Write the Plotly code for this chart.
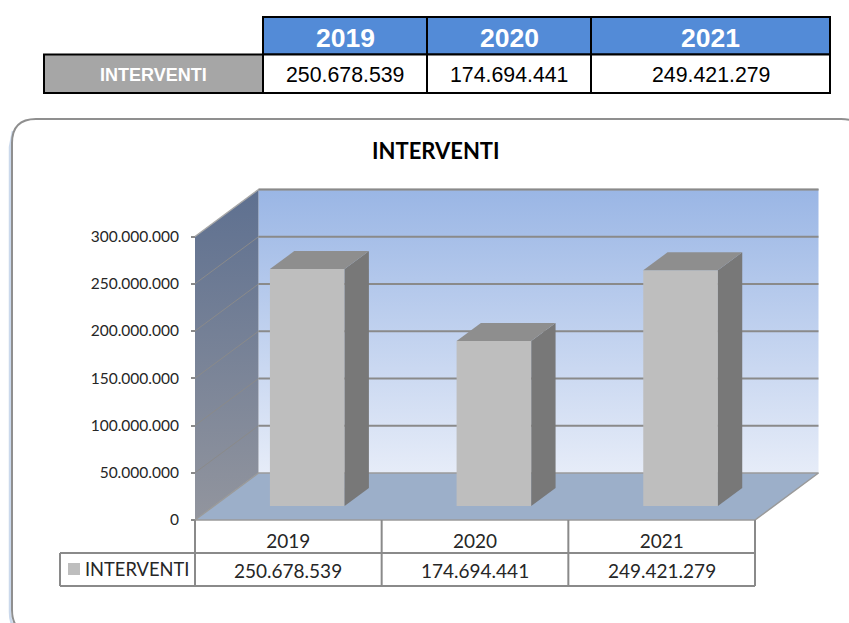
import plotly.graph_objects as go

# ---- data ----
categories = ["2019", "2020", "2021"]
series_name = "INTERVENTI"
values = [250678539, 174694441, 249421279]
value_labels = ["250.678.539", "174.694.441", "249.421.279"]
y_ticks = [0, 50000000, 100000000, 150000000, 200000000, 250000000, 300000000]

# ---- geometry of the picture ----
W, H = 849, 623
X0, CAT_W = 195.0, 186.67          # front plane left, px per category
Y0, PX_PER_V = 520.0, 283.5 / 3e8  # front-plane zero, px per unit
DX = 63.5 / CAT_W                  # floor depth in category units
DY = 47.0 / PX_PER_V               # floor depth in value units
BAR_W, BAR_FRONT, BAR_BACK = 0.40, 14 / 47, 32 / 47
NCAT = len(categories)
VMAX = y_ticks[-1]

xrange_ = [-X0 / CAT_W, (W - X0) / CAT_W]
yrange_ = [(Y0 - H) / PX_PER_V, Y0 / PX_PER_V]
px = lambda p: p / W
py = lambda p: 1 - p / H


def depth(x, v, d):
    return x + d * DX, v + d * DY


fig = go.Figure()


def poly(pts, color=None, axes=("x", "y"), line=None, grad=None):
    xs = [p[0] for p in pts] + [pts[0][0]]
    ys = [p[1] for p in pts] + [pts[0][1]]
    kw = dict(x=xs, y=ys, mode="lines" if line else "none", fill="toself",
              xaxis=axes[0], yaxis=axes[1], hoverinfo="skip", showlegend=False)
    if line:
        kw["line"] = line
    if grad:
        kw["fillgradient"] = grad
    else:
        kw["fillcolor"] = color
    fig.add_trace(go.Scatter(**kw))


edge = dict(color="#9A9A9A", width=1.5)

# back wall
poly([depth(0, 0, 1), depth(NCAT, 0, 1), depth(NCAT, VMAX, 1), depth(0, VMAX, 1)],
     grad=dict(type="vertical", start=VMAX + DY, stop=DY,
               colorscale=[[0, "#9AB6E5"], [1, "#E6ECF8"]]))
# left wall
poly([(0, 0), depth(0, 0, 1), depth(0, VMAX, 1), (0, VMAX)],
     grad=dict(type="vertical", start=VMAX + DY, stop=0,
               colorscale=[[0, "#5E7090"], [1, "#92959E"]]))
# top edges of the walls
for pts in ([depth(0, VMAX, 1), depth(NCAT, VMAX, 1)], [(0, VMAX), depth(0, VMAX, 1)]):
    fig.add_trace(go.Scatter(x=[p[0] for p in pts], y=[p[1] for p in pts], mode="lines",
                             line=dict(color="#A8A8A8", width=1.5), hoverinfo="skip",
                             showlegend=False))
# gridlines
for t in y_ticks:
    b = depth(0, t, 1)
    e = depth(NCAT, t, 1)
    if 0 < t < VMAX:
        fig.add_trace(go.Scatter(x=[0, b[0]], y=[t, b[1]], mode="lines",
                                 line=dict(color="#8A8A8A", width=1), hoverinfo="skip",
                                 showlegend=False))
    if t > 0:
        fig.add_trace(go.Scatter(x=[b[0], e[0]], y=[b[1], e[1]], mode="lines",
                                 line=dict(color="#8A8A8A", width=2), hoverinfo="skip",
                                 showlegend=False))
# floor
poly([(0, 0), (NCAT, 0), depth(NCAT, 0, 1), depth(0, 0, 1)], "#9CAFC9", line=edge)

# bars: front faces through the bar trace, depth faces from the same values
bar_x = [i + 0.5 + BAR_FRONT * DX for i in range(NCAT)]
bar_base = BAR_FRONT * DY
fig.add_trace(go.Bar(x=bar_x, y=values, base=[bar_base] * NCAT, width=BAR_W,
                     marker=dict(color="#BEBEBE", line=dict(width=0)),
                     xaxis="x2", yaxis="y2", name=series_name, showlegend=False))
d = BAR_BACK - BAR_FRONT
for x, v in zip(bar_x, values):
    xl, xr = x - BAR_W / 2, x + BAR_W / 2
    top = bar_base + v
    poly([(xr, bar_base), depth(xr, bar_base, d), depth(xr, top, d), (xr, top)],
         "#787878", axes=("x2", "y2"))
    poly([(xl, top), (xr, top), depth(xr, top, d), depth(xl, top, d)],
         "#8E8E8E", axes=("x2", "y2"))

# ---- shapes ----
shapes = []
FL, FT, FR, FB, FC = 12, 119, 865, 634, 24


def frame_path():
    l, t, r, b, c = FL, FT, FR, FB, FC
    return (f"M {px(l + c)} {py(t)} L {px(r - c)} {py(t)} Q {px(r)} {py(t)} {px(r)} {py(t + c)} "
            f"L {px(r)} {py(b - c)} Q {px(r)} {py(b)} {px(r - c)} {py(b)} "
            f"L {px(l + c)} {py(b)} Q {px(l)} {py(b)} {px(l)} {py(b - c)} "
            f"L {px(l)} {py(t + c)} Q {px(l)} {py(t)} {px(l + c)} {py(t)} Z")


def shadow_path(off, bot):
    l, t, b, c = FL - off, FT + 12, bot, FC
    return (f"M {px(l + 3)} {py(t)} L {px(l)} {py(t + 16)} L {px(l)} {py(b - c)} "
            f"Q {px(l)} {py(b)} {px(l + c)} {py(b)}")


shapes.append(dict(type="path", xref="paper", yref="paper", path=shadow_path(2, FB + 2),
                   layer="below", line=dict(color="#CBD9EC", width=2.5)))
shapes.append(dict(type="path", xref="paper", yref="paper", path=frame_path(), layer="below",
                   line=dict(color="#8F8F8F", width=2)))


def rect(x0, y0, x1, y1, fill, lw=2):
    shapes.append(dict(type="rect", xref="paper", yref="paper", x0=px(x0), x1=px(x1),
                       y0=py(y0), y1=py(y1), fillcolor=fill, layer="above",
                       line=dict(color="#000000", width=lw)))


# top table
col_edges = [263, 427, 591, 830]
for i in range(3):
    rect(col_edges[i], 17, col_edges[i + 1], 54.5, "#538BD7")
    rect(col_edges[i], 54.5, col_edges[i + 1], 93, "#FFFFFF")
rect(44, 54.5, 263, 93, "#A6A6A6")


def gline(x0, y0, x1, y1):
    shapes.append(dict(type="line", xref="x", yref="paper", x0=x0, x1=x1, y0=py(y0), y1=py(y1),
                       layer="above", line=dict(color="#8A8A8A", width=2)))


# chart data table
left = (60 - X0) / CAT_W
for i in range(NCAT + 1):
    gline(i, 520, i, 586)
gline(left, 553, NCAT, 553)
gline(left, 586, NCAT, 586)
gline(left, 553, left, 586)
shapes.append(dict(type="rect", xref="paper", yref="paper", x0=px(68), x1=px(80), y0=py(563),
                   y1=py(575), fillcolor="#BEBEBE", line=dict(width=0), layer="above"))

# ---- text ----
ann = []


def text(x, y, s, size, color, family, bold=False, xref="paper", anchor="center"):
    ann.append(dict(x=x, y=py(y), xref=xref, yref="paper", text=f"<b>{s}</b>" if bold else s,
                    showarrow=False, xanchor=anchor, yanchor="middle", xshift=0,
                    font=dict(size=size, color=color, family=family)))


ARIAL = "Liberation Sans"
CAL = "Lato"
for i in range(3):
    cx = px((col_edges[i] + col_edges[i + 1]) / 2)
    text(cx, 37.5, categories[i], 26.5, "#FFFFFF", ARIAL, True)
    text(cx, 74.5, value_labels[i], 21.3, "#000000", ARIAL)
    text(i + 0.5, 570, value_labels[i], 19, "#262626", CAL, xref="x")
text(px(153), 74.5, series_name, 18, "#FFFFFF", ARIAL, True)
text(px(436), 151, series_name, 22, "#000000", CAL, True)
text(px(83), 568.5, series_name, 18.3, "#262626", CAL, anchor="left")

axis_common = dict(range=xrange_, showgrid=False, zeroline=False, fixedrange=True)
fig.update_layout(
    width=W, height=H, margin=dict(l=0, r=0, t=0, b=0, pad=0),
    paper_bgcolor="#FFFFFF", plot_bgcolor="rgba(0,0,0,0)",
    separators=",.", showlegend=False, shapes=shapes, annotations=ann,
    xaxis=dict(**axis_common, anchor="free", position=py(528), showline=False, ticks="",
               tickmode="array", tickvals=[i + 0.5 for i in range(NCAT)], ticktext=categories,
               tickangle=0, tickfont=dict(size=19, color="#262626", family=CAL)),
    yaxis=dict(range=yrange_, showgrid=False, zeroline=False, fixedrange=True, anchor="free",
               position=px(X0), showline=False, ticks="outside", ticklen=4, tickcolor="#8A8A8A",
               tickwidth=2, tickmode="array", tickvals=y_ticks, tickformat=",d",
               ticklabelstandoff=9,
               tickfont=dict(size=15.5, color="#262626", family=CAL)),
    xaxis2=dict(**axis_common, overlaying="x", visible=False),
    yaxis2=dict(range=yrange_, overlaying="y", visible=False, fixedrange=True),
)
fig.write_html("out.html", post_script="document.body.style.margin='0';", config={"displayModeBar": False})
